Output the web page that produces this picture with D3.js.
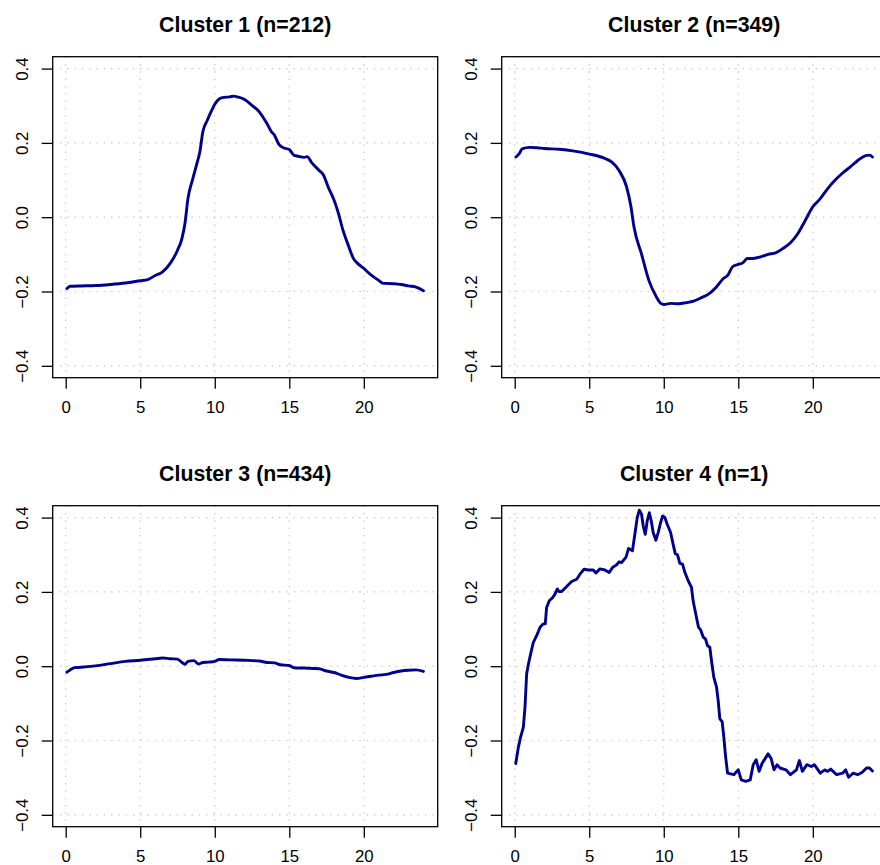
<!DOCTYPE html>
<html>
<head>
<meta charset="utf-8">
<script src="https://cdn.jsdelivr.net/npm/d3@7"></script>
<style>
  html, body { margin: 0; padding: 0; background: #fff; }
  svg { display: block; }
  text { font-family: "Liberation Sans", Arial, Helvetica, sans-serif; fill: #000; }
</style>
</head>
<body>
<svg id="chart" width="880" height="865"></svg>
<script>
// ---- data (hour of day, mean standardized value) ----
const titles = ["Cluster 1 (n=212)", "Cluster 2 (n=349)", "Cluster 3 (n=434)", "Cluster 4 (n=1)"];
const xTicks = [0, 5, 10, 15, 20];
const yTicks = [-0.4, -0.2, 0.0, 0.2, 0.4];
const yTickLabels = ["\u22120.4", "\u22120.2", "0.0", "0.2", "0.4"];

const cluster1 = [[0.08,-0.192],[0.3,-0.186],[1,-0.185],[2,-0.184],[3,-0.181],[4,-0.177],[5,-0.171],[5.5,-0.168],[6,-0.157],[6.5,-0.147],[7,-0.125],[7.5,-0.089],[7.8,-0.057],[8,-0.017],[8.2,0.050],[8.5,0.10],[8.8,0.144],[9,0.176],[9.2,0.23],[9.5,0.261],[9.8,0.288],[10,0.304],[10.2,0.315],[10.5,0.322],[11,0.324],[11.3,0.326],[11.5,0.324],[12,0.317],[12.5,0.301],[13,0.283],[13.5,0.252],[13.8,0.23],[14,0.221],[14.3,0.196],[14.6,0.187],[15,0.182],[15.3,0.167],[15.6,0.164],[16,0.161],[16.2,0.163],[16.5,0.147],[17,0.126],[17.3,0.113],[17.6,0.082],[18,0.046],[18.3,0.01],[18.6,-0.035],[19,-0.08],[19.3,-0.111],[19.6,-0.125],[20,-0.138],[20.5,-0.156],[21,-0.170],[21.3,-0.178],[21.5,-0.178],[22,-0.179],[22.5,-0.181],[23,-0.185],[23.5,-0.188],[24,-0.198]];

const cluster2 = [[0.08,0.162],[0.3,0.171],[0.5,0.184],[1,0.188],[1.5,0.187],[2,0.185],[3,0.183],[4,0.178],[5,0.170],[6,0.159],[6.5,0.149],[7,0.126],[7.5,0.082],[7.8,0.028],[8,-0.026],[8.5,-0.098],[9,-0.170],[9.5,-0.214],[9.8,-0.232],[10,-0.235],[10.5,-0.232],[11,-0.233],[11.5,-0.230],[12,-0.226],[12.5,-0.217],[13,-0.207],[13.5,-0.189],[14,-0.165],[14.3,-0.156],[14.6,-0.134],[15,-0.127],[15.3,-0.123],[15.6,-0.111],[16,-0.111],[16.5,-0.107],[17,-0.100],[17.5,-0.096],[18,-0.084],[18.5,-0.069],[19,-0.044],[19.5,-0.008],[20,0.028],[20.5,0.050],[21,0.077],[21.5,0.100],[22,0.119],[22.5,0.135],[23,0.152],[23.5,0.165],[23.8,0.167],[24,0.162]];

const cluster3 = [[0.08,-0.016],[0.3,-0.010],[0.6,-0.004],[1,-0.003],[2,0.001],[3,0.007],[4,0.013],[5,0.016],[6,0.020],[6.5,0.022],[7,0.020],[7.5,0.019],[7.8,0.010],[8,0.005],[8.2,0.013],[8.6,0.015],[8.9,0.006],[9.2,0.010],[9.6,0.011],[10,0.013],[10.3,0.018],[11,0.017],[12,0.016],[13,0.014],[13.5,0.010],[14,0.009],[14.4,0.004],[15,0.002],[15.3,-0.004],[16,-0.005],[17,-0.007],[17.5,-0.013],[18,-0.017],[18.5,-0.024],[19,-0.030],[19.5,-0.033],[20,-0.030],[20.5,-0.027],[21,-0.024],[21.5,-0.022],[22,-0.017],[22.5,-0.013],[23,-0.011],[23.5,-0.010],[24,-0.014]];

const cluster4 = [[0.07,-0.262],[0.25,-0.217],[0.40,-0.19],[0.58,-0.164],[0.69,-0.11],[0.80,-0.021],[0.92,0.006],[1.07,0.033],[1.25,0.064],[1.47,0.082],[1.70,0.105],[1.92,0.114],[2.05,0.114],[2.14,0.158],[2.32,0.176],[2.55,0.185],[2.70,0.194],[2.86,0.208],[2.97,0.201],[3.15,0.201],[3.37,0.210],[3.60,0.219],[3.82,0.228],[4.16,0.234],[4.42,0.250],[4.65,0.261],[4.94,0.259],[5.27,0.259],[5.45,0.251],[5.72,0.262],[6.05,0.259],[6.34,0.252],[6.57,0.266],[6.84,0.273],[7.0,0.281],[7.17,0.279],[7.46,0.293],[7.64,0.317],[7.9,0.311],[8.06,0.355],[8.22,0.40],[8.36,0.420],[8.51,0.409],[8.62,0.378],[8.76,0.355],[8.89,0.391],[9.03,0.413],[9.16,0.391],[9.29,0.360],[9.47,0.339],[9.63,0.360],[9.79,0.387],[9.92,0.404],[10.08,0.40],[10.23,0.382],[10.46,0.360],[10.63,0.328],[10.77,0.303],[10.92,0.30],[11.08,0.277],[11.26,0.275],[11.42,0.252],[11.64,0.230],[11.86,0.212],[11.97,0.176],[12.15,0.140],[12.33,0.105],[12.47,0.098],[12.65,0.078],[12.80,0.073],[12.94,0.055],[13.09,0.051],[13.23,0.006],[13.36,-0.030],[13.54,-0.056],[13.65,-0.092],[13.76,-0.141],[13.92,-0.150],[14.03,-0.191],[14.14,-0.240],[14.28,-0.288],[14.7,-0.292],[15.0,-0.279],[15.2,-0.306],[15.5,-0.310],[15.8,-0.306],[16.0,-0.265],[16.2,-0.252],[16.4,-0.283],[16.6,-0.261],[17.0,-0.236],[17.2,-0.248],[17.4,-0.279],[17.6,-0.265],[17.8,-0.274],[18.2,-0.279],[18.5,-0.292],[18.9,-0.279],[19.1,-0.254],[19.3,-0.283],[19.6,-0.265],[19.9,-0.270],[20.1,-0.265],[20.5,-0.288],[20.8,-0.279],[21.0,-0.283],[21.2,-0.277],[21.6,-0.292],[22.0,-0.288],[22.2,-0.279],[22.4,-0.299],[22.7,-0.288],[23.0,-0.292],[23.3,-0.286],[23.6,-0.274],[23.8,-0.274],[24.0,-0.282]];

const seriesList = [cluster1, cluster2, cluster3, cluster4];
const curves = [d3.curveMonotoneX, d3.curveMonotoneX, d3.curveMonotoneX, d3.curveLinear];

// ---- layout ----
const svg = d3.select("#chart");
const boxW = 385, boxH = 321;
const panels = [
  {left: 52.7, top: 56.7},
  {left: 501.7, top: 56.7},
  {left: 52.7, top: 505.7},
  {left: 501.7, top: 505.7}
];
const xDomain = [-0.873, 24.957];   // R-style 4% extension of data range
const yDomain = [-0.432, 0.432];    // ylim (-0.4, 0.4) with 4% extension

panels.forEach((p, i) => {
  const x = d3.scaleLinear().domain(xDomain).range([p.left, p.left + boxW]);
  const y = d3.scaleLinear().domain(yDomain).range([p.top + boxH, p.top]);
  const g = svg.append("g");

  // grid
  g.selectAll(".gx").data(xTicks).enter().append("line")
    .attr("x1", d => x(d)).attr("x2", d => x(d))
    .attr("y1", p.top).attr("y2", p.top + boxH)
    .attr("stroke", "#c8c8c8").attr("stroke-width", 1.2)
    .attr("stroke-dasharray", "1.4,5.9");
  g.selectAll(".gy").data(yTicks).enter().append("line")
    .attr("x1", p.left).attr("x2", p.left + boxW)
    .attr("y1", d => y(d)).attr("y2", d => y(d))
    .attr("stroke", "#c8c8c8").attr("stroke-width", 1.2)
    .attr("stroke-dasharray", "1.4,5.9");

  // line
  const line = d3.line().curve(curves[i]).x(d => x(d[0])).y(d => y(d[1]));
  g.append("path").datum(seriesList[i])
    .attr("d", line)
    .attr("fill", "none")
    .attr("stroke", "#00008B")
    .attr("stroke-width", 2.9)
    .attr("stroke-linejoin", "round")
    .attr("stroke-linecap", "round");

  // x axis
  const xAxis = d3.axisBottom(x).tickValues(xTicks).tickSize(11).tickPadding(12)
    .tickFormat(d3.format("d"));
  const xa = g.append("g").attr("transform", `translate(0,${p.top + boxH})`).call(xAxis);
  xa.select(".domain").remove();
  xa.selectAll(".tick line").attr("stroke", "#000").attr("stroke-width", 1.3);
  xa.selectAll(".tick text").attr("font-size", 16.8).attr("fill", "#000")
    .attr("font-family", "Liberation Sans, Arial, sans-serif");

  // y axis
  const yAxis = d3.axisLeft(y).tickValues(yTicks).tickSize(11)
    .tickFormat((d, k) => yTickLabels[k]);
  const ya = g.append("g").attr("transform", `translate(${p.left},0)`).call(yAxis);
  ya.select(".domain").remove();
  ya.selectAll(".tick line").attr("stroke", "#000").attr("stroke-width", 1.3);
  ya.selectAll(".tick text")
    .attr("font-size", 16.8).attr("fill", "#000")
    .attr("font-family", "Liberation Sans, Arial, sans-serif")
    .attr("x", null).attr("dy", null)
    .attr("text-anchor", "middle")
    .attr("transform", "translate(-24.4,0) rotate(-90)");

  // box
  g.append("rect")
    .attr("x", p.left).attr("y", p.top)
    .attr("width", boxW).attr("height", boxH)
    .attr("fill", "none").attr("stroke", "#000").attr("stroke-width", 1.3);

  // title
  g.append("text")
    .attr("x", p.left + boxW / 2)
    .attr("y", p.top - 24.6)
    .attr("text-anchor", "middle")
    .attr("font-weight", "bold")
    .attr("font-size", 21.3)
    .text(titles[i]);
});
</script>
</body>
</html>
